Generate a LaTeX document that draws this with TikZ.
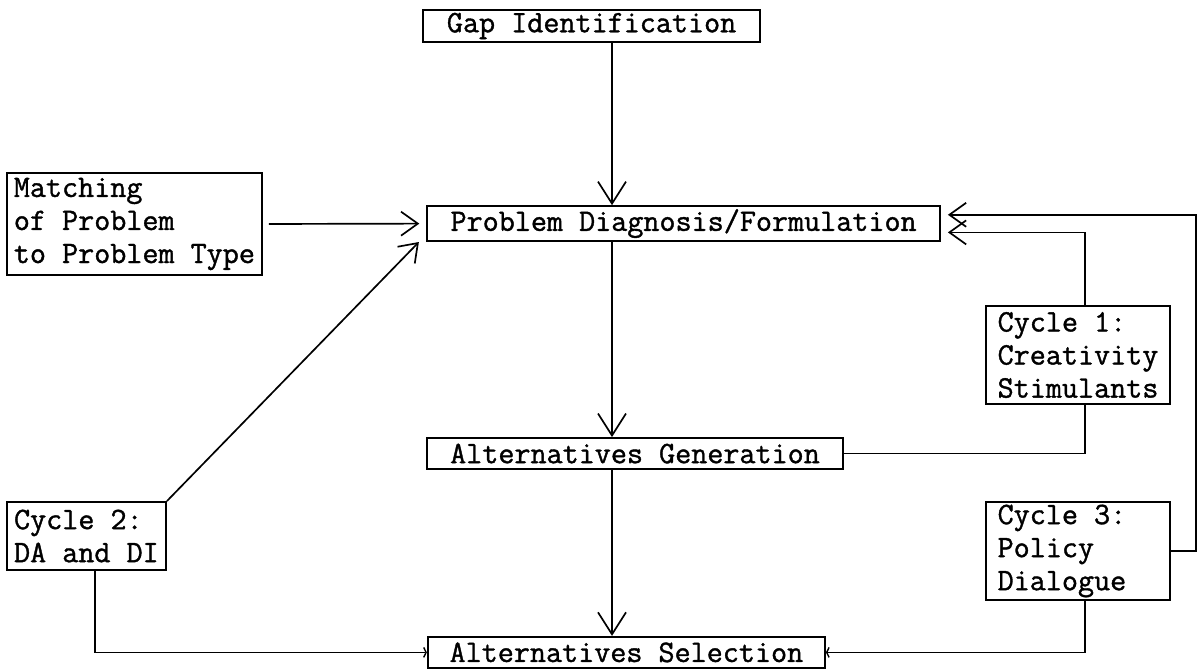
\documentclass[tikz,border=0pt]{standalone}
\usepackage{fontspec}
\newfontface\boxtt[FakeBold=1.2]{Latin Modern Mono}
\usetikzlibrary{arrows.meta}
\newcommand\boxfont{\boxtt\fontsize{22.2}{23.5}\selectfont}
\tikzset{
  box/.style={draw, line width=1.3pt, font=\boxfont, inner sep=0pt},
  flow/.style={line width=1.2pt, -{Straight Barb[length=0.55cm,width=0.7cm,line width=1.2pt]}},
  feed/.style={line width=1.2pt, -{Straight Barb[length=0.42cm,width=0.6cm,line width=1.2pt]}},
  tick/.style={line width=1.2pt, -{Straight Barb[length=0.06cm,width=0.25cm,line width=1pt]}},
  link/.style={line width=1.2pt}
}
\begin{document}
\begin{tikzpicture}
            \useasboundingbox (0,0) rectangle (30.05,-16.775);

            \node[box, minimum width=8.43cm, minimum height=0.8cm] (gap) at (14.79,-0.65) {Gap Identification};
            \node[box, minimum width=12.83cm, minimum height=0.875cm] (pd) at (17.09,-5.59) {Problem Diagnosis/Formulation};
            \node[box, minimum width=10.4cm, minimum height=0.78cm] (ag) at (15.875,-11.34) {Alternatives Generation};
            \node[box, minimum width=9.93cm, minimum height=0.78cm] (as) at (15.66,-16.31) {Alternatives Selection};
            \node[box, minimum width=6.38cm, minimum height=2.55cm, align=left] (match) at (3.36,-5.6) {Matching\\of Problem\\to Problem Type};
            \node[box, minimum width=3.98cm, minimum height=1.7cm, align=left] (c2) at (2.16,-13.4) {Cycle 2:\\DA and DI};
            \node[box, minimum width=4.6cm, minimum height=2.45cm, align=left] (c1) at (26.95,-8.875) {Cycle 1:\\Creativity\\Stimulants};
            \node[box, minimum width=4.6cm, minimum height=2.45cm, align=left] (c3) at (26.95,-13.775) {Cycle 3:\hphantom{xx}\\Policy\\Dialogue};

            \coordinate (vx) at (15.3,0);
            \coordinate (rx) at (27.125,0);
            \coordinate (lx) at (2.375,0);

            \draw[flow] (gap.south -| vx) -- (pd.north -| vx);
            \draw[flow] (pd.south -| vx) -- (ag.north -| vx);
            \draw[flow] (ag.south -| vx) -- (as.north -| vx);

            \draw[feed, shorten <=0.15cm, shorten >=0.17cm] (match.east) -- (pd.west);
            \draw[feed] (c2.north east) -- ([xshift=-0.18cm]pd.south west);
            \draw[tick] (c2.south -| lx) |- (as.west);
            \draw[link] (c1.south -| rx) |- (ag.east);
            \draw[feed, shorten >=0.17cm] (c1.north -| rx) |- ([yshift=-0.22cm]pd.east);
            \draw[feed, shorten >=0.17cm] (c3.east) -- ++(0.625,0) |- ([yshift=0.22cm]pd.east);
            \draw[tick] (c3.south -| rx) |- (as.east);
        \end{tikzpicture}
\end{document}
